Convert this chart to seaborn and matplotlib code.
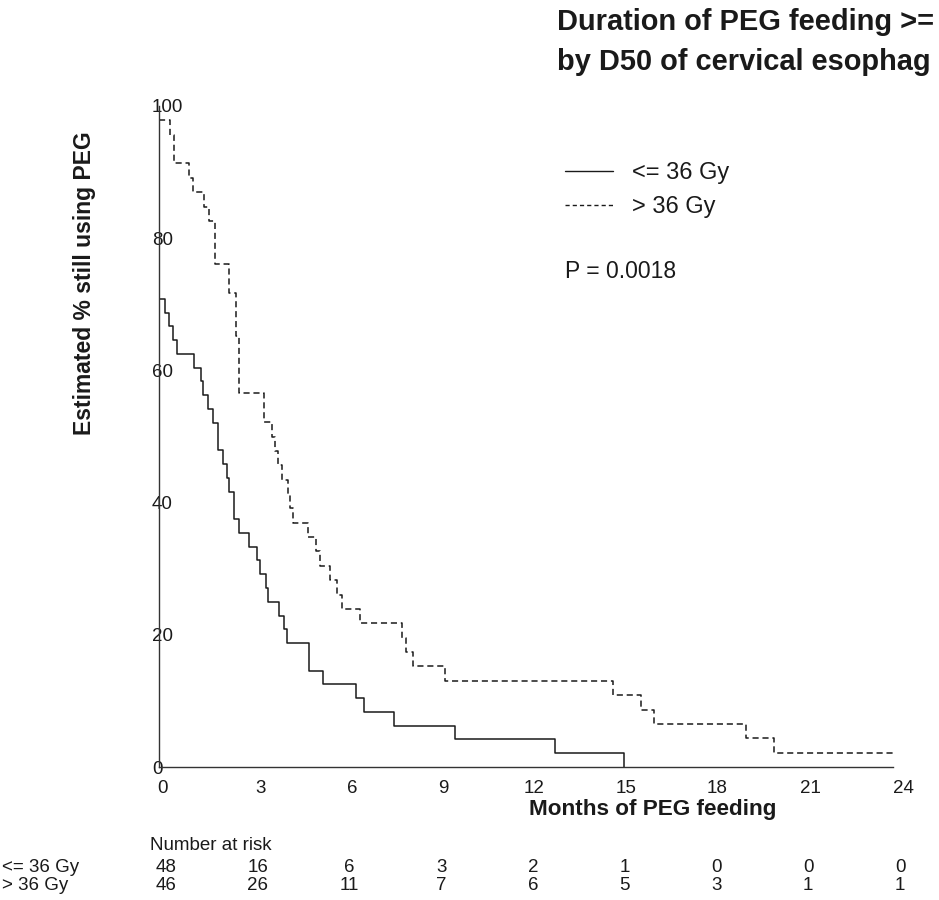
import numpy as np
import pandas as pd
import matplotlib
matplotlib.use("Agg")
import matplotlib.pyplot as plt
import seaborn as sns
from matplotlib.transforms import ScaledTranslation, blended_transform_factory
from matplotlib.lines import Line2D

# ---------------- data ----------------
groups = ["<= 36 Gy", "> 36 Gy"]
n_start = [48, 46]

low_times = [0, 0.21, 0.32, 0.45, 0.58, 1.14, 1.37, 1.45, 1.61, 1.77, 1.94, 2.10,
             2.21, 2.30, 2.44, 2.60, 2.93, 3.19, 3.30, 3.50, 3.56, 3.93, 4.08,
             4.20, 4.92, 5.35, 6.44, 6.70, 7.68, 9.69, 12.94, 15.2]
low_left = [34, 33, 32, 31, 30, 29, 28, 27, 26, 25, 23, 22,
            21, 20, 18, 17, 16, 15, 14, 13, 12, 11, 10,
            9, 7, 6, 5, 4, 3, 2, 1, 0]

high_times = [0, 0.36, 0.50, 0.98, 1.12, 1.48, 1.62, 1.84, 2.29, 2.52, 2.62,
              3.44, 3.71, 3.80, 3.90, 4.01, 4.23, 4.28, 4.39, 4.88, 5.12, 5.26,
              5.59, 5.81, 5.97, 6.57, 7.94, 8.07, 8.30, 9.34, 14.83, 15.75,
              16.17, 19.19, 20.12, 24.0]
high_left = [45, 44, 42, 41, 40, 39, 38, 35, 33, 30, 26,
             24, 23, 22, 21, 20, 19, 18, 17, 16, 15, 14,
             13, 12, 11, 10, 9, 8, 7, 6, 5, 4,
             3, 2, 1, 1]

risk_times = [0, 3, 6, 9, 12, 15, 18, 21, 24]
risk_low = [48, 16, 6, 3, 2, 1, 0, 0, 0]
risk_high = [46, 26, 11, 7, 6, 5, 3, 1, 1]
y_ticks = [0, 20, 40, 60, 80, 100]

title_lines = ["Duration of PEG feeding >=", "by D50 of cervical esophag"]
x_label = "Months of PEG feeding"
y_label = "Estimated % still using PEG"
p_text = "P = 0.0018"

# ---------------- build frame ----------------
df = pd.concat([
    pd.DataFrame({"t": low_times, "surv": np.array(low_left) / n_start[0] * 100,
                  "grp": groups[0]}),
    pd.DataFrame({"t": high_times, "surv": np.array(high_left) / n_start[1] * 100,
                  "grp": groups[1]}),
], ignore_index=True)

# ---------------- style ----------------
sns.set_style("white")
plt.rcParams["font.family"] = ["Liberation Sans", "DejaVu Sans"]

W, H = 939, 900
fig = plt.figure(figsize=(W / 100, H / 100), dpi=100)
ax = fig.add_axes([159 / W, (H - 767) / H, (893 - 159) / W, (767 - 106) / H])

ink = "#1a1a1a"
sns.lineplot(data=df, x="t", y="surv", hue="grp", style="grp",
             palette={groups[0]: ink, groups[1]: ink},
             dashes={groups[0]: "", groups[1]: (4, 2.5)},
             drawstyle="steps-post", estimator=None, sort=False,
             linewidth=1.1, ax=ax, legend=False)

ax.set_xlim(0, 24)
ax.set_ylim(0, 100)
ax.set_xticks(risk_times)
ax.set_xticklabels([str(v) for v in risk_times])
ax.set_yticks(y_ticks)
ax.set_yticklabels([str(v) for v in y_ticks])
ax.set_xlabel("")
ax.set_ylabel("")
for s in ["top", "right"]:
    ax.spines[s].set_visible(False)
for s in ["left", "bottom"]:
    ax.spines[s].set_color("#333333")
    ax.spines[s].set_linewidth(1.0)

ax.tick_params(axis="x", direction="out", length=6.5, width=1.0, color="#333333",
               labelsize=13.5, pad=3, labelcolor=ink)
ax.tick_params(axis="y", length=0, labelsize=13.5, pad=5, labelcolor=ink)
for lab in ax.get_yticklabels():
    lab.set_horizontalalignment("left")
x_off_px = [4, 10, 10, 9, 8, 8, 8, 9, 10]
for lab, dx in zip(ax.get_xticklabels(), x_off_px):
    lab.set_transform(lab.get_transform() +
                      ScaledTranslation(dx / 100, 0, fig.dpi_scale_trans))

# legend
handles = [Line2D([], [], color=ink, lw=1.0, ls="-"),
           Line2D([], [], color=ink, lw=1.0, ls=(0, (3, 2.2)))]
leg = fig.legend(handles, groups, loc="upper left",
                 bbox_to_anchor=(556 / W, 1 - 153 / H), frameon=False,
                 fontsize=17, handlelength=2.0, handletextpad=0.8,
                 labelspacing=0.5, borderaxespad=0)
for t in leg.get_texts():
    t.set_color(ink)

fig.text(565 / W, 1 - 272 / H, p_text, fontsize=16.5, color=ink,
         ha="left", va="center")

# titles and labels
fig.text(557 / W, 1 - 30 / H, title_lines[0], fontsize=20.9, fontweight="bold",
         color=ink, ha="left", va="baseline")
fig.text(557 / W, 1 - 70 / H, title_lines[1], fontsize=20.9, fontweight="bold",
         color=ink, ha="left", va="baseline")
fig.text(529 / W, 1 - 810 / H, x_label, fontsize=16.2, fontweight="bold",
         color=ink, ha="left", va="center")
fig.text(85 / W, 1 - 283 / H, y_label, fontsize=16.5, fontweight="bold",
         color=ink, ha="center", va="center", rotation=90)

# number at risk table
trans = blended_transform_factory(ax.transData, fig.transFigure) + \
    ScaledTranslation(7 / 100, 0, fig.dpi_scale_trans)
fig.text(150 / W, 1 - 846 / H, "Number at risk", fontsize=13.5, color=ink,
         ha="left", va="center")
fig.text(2 / W, 1 - 867 / H, groups[0], fontsize=13.5, color=ink,
         ha="left", va="center")
fig.text(2 / W, 1 - 886 / H, groups[1], fontsize=13.5, color=ink,
         ha="left", va="center")
for t, a, b in zip(risk_times, risk_low, risk_high):
    ax.text(t, 1 - 867 / H, str(a), transform=trans, fontsize=13.5, color=ink,
            ha="center", va="center", clip_on=False)
    ax.text(t, 1 - 886 / H, str(b), transform=trans, fontsize=13.5, color=ink,
            ha="center", va="center", clip_on=False)

fig.savefig("out.png", dpi=100)
